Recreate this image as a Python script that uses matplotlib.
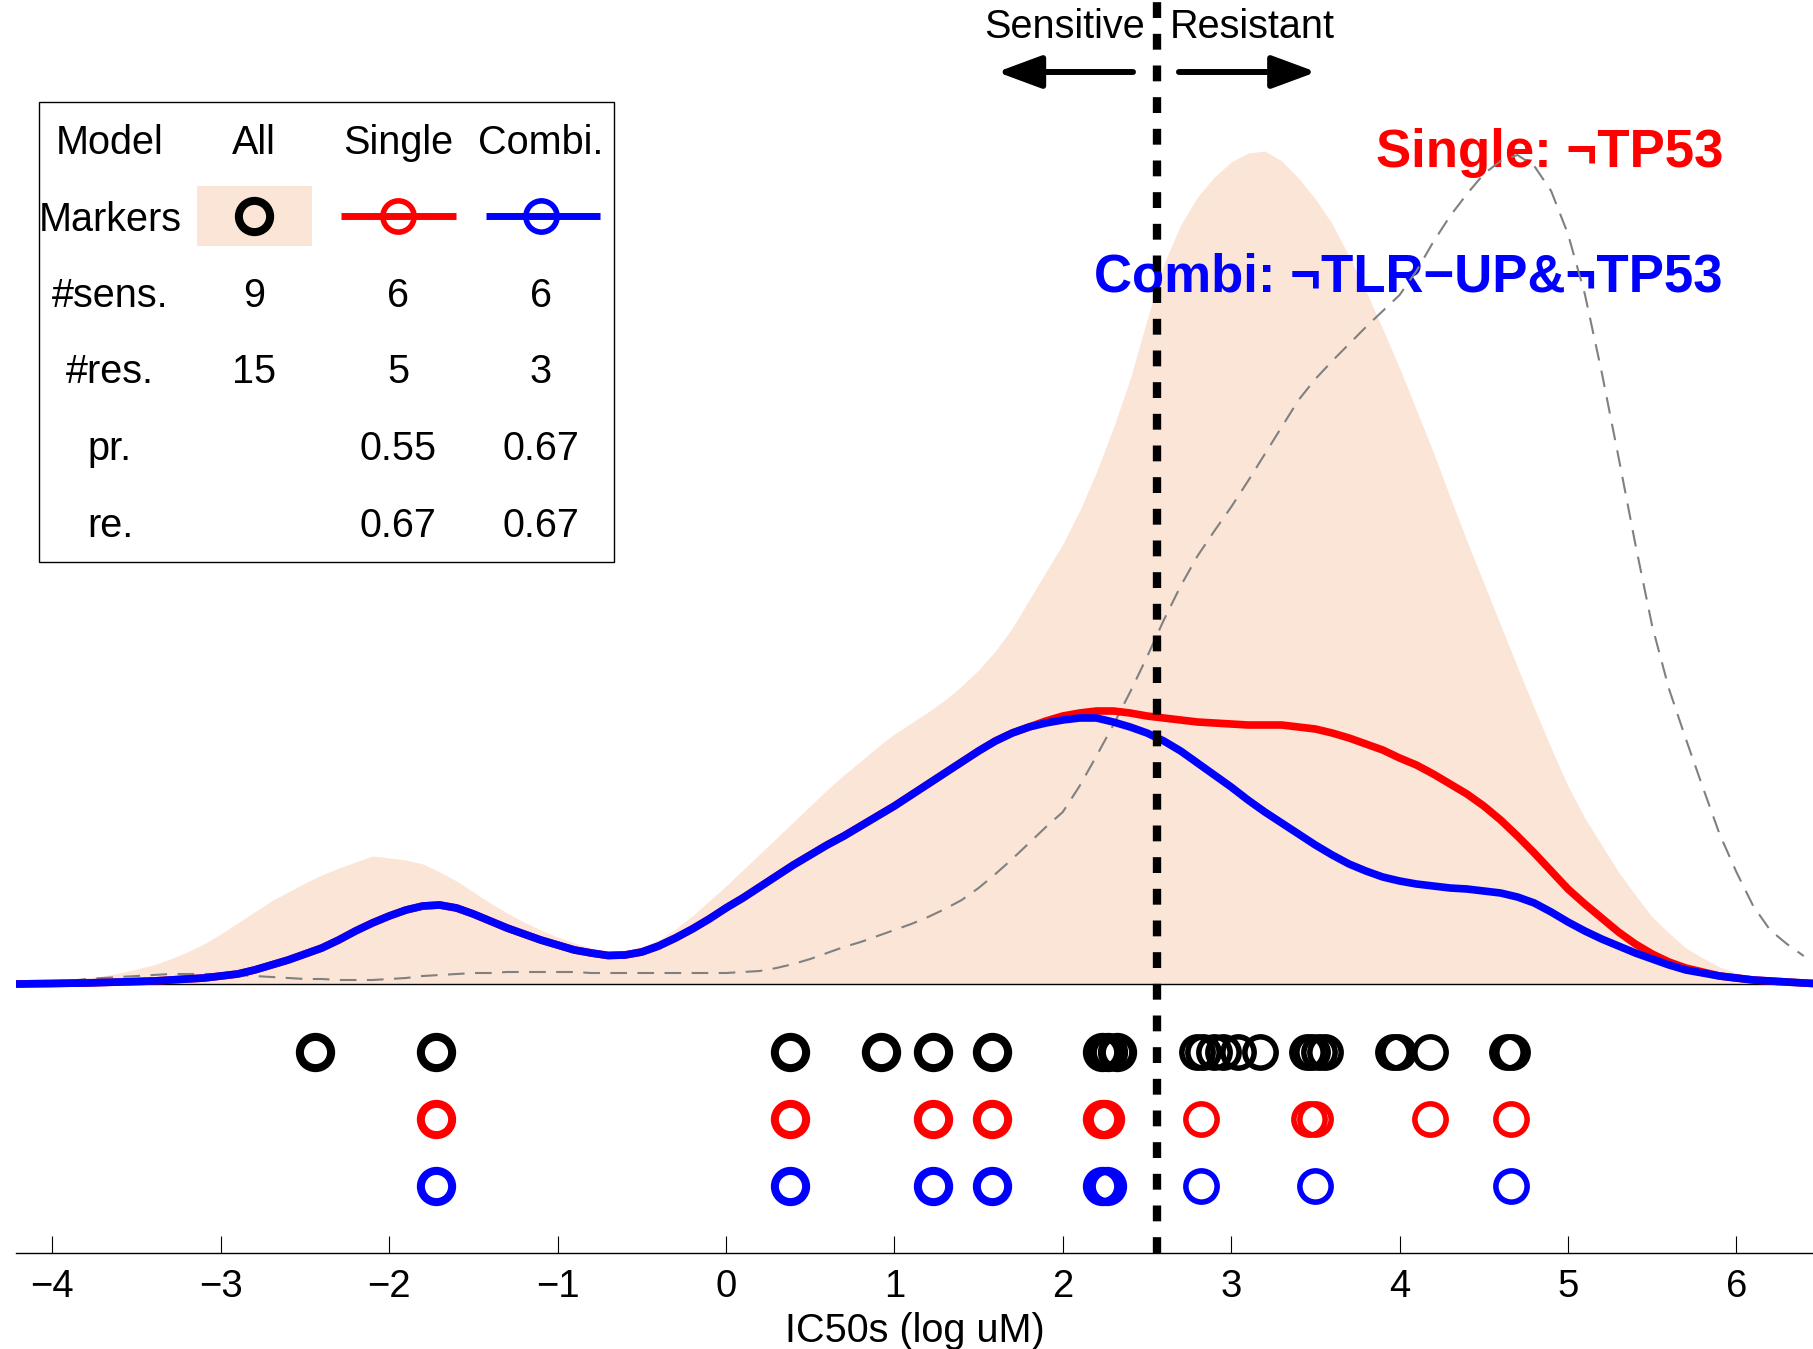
import numpy as np
import matplotlib
matplotlib.use("Agg")
import matplotlib.pyplot as plt
from matplotlib.lines import Line2D
from matplotlib.patches import Rectangle

plt.rcParams["font.family"] = ["Liberation Sans", "DejaVu Sans"]

IC50_GRID = [-4.22, -4.1, -4.0, -3.9, -3.8, -3.7, -3.6, -3.5, -3.4, -3.3,
             -3.2, -3.1, -3.0, -2.9, -2.8, -2.7, -2.6, -2.5, -2.4, -2.3,
             -2.2, -2.1, -2.0, -1.9, -1.8, -1.7, -1.6, -1.5, -1.4, -1.3,
             -1.2, -1.1, -1.0, -0.9, -0.8, -0.7, -0.6, -0.5, -0.4, -0.3,
             -0.2, -0.1, 0.0, 0.1, 0.2, 0.3, 0.4, 0.5, 0.6, 0.7,
             0.8, 0.9, 1.0, 1.1, 1.2, 1.3, 1.4, 1.5, 1.6, 1.7,
             1.8, 1.9, 2.0, 2.1, 2.2, 2.3, 2.4, 2.5, 2.6, 2.7,
             2.8, 2.9, 3.0, 3.1, 3.2, 3.3, 3.4, 3.5, 3.6, 3.7,
             3.8, 3.9, 4.0, 4.1, 4.2, 4.3, 4.4, 4.5, 4.6, 4.7,
             4.8, 4.9, 5.0, 5.1, 5.2, 5.3, 5.4, 5.5, 5.6, 5.7,
             5.8, 5.9, 6.0, 6.1, 6.2, 6.3, 6.4, 6.46]

# densities (arbitrary units)
DENS_ALL = [2, 2.5, 3, 4, 6, 8, 11, 15, 19, 25,
            32, 40, 50, 61, 72, 83, 92, 101, 109, 116,
            122, 128, 126, 124, 120, 112, 103, 92, 81, 71,
            62, 54, 47, 41, 36, 33, 33, 37, 44, 55,
            68, 83, 98, 114, 130, 146, 162, 178, 194, 209,
            223, 237, 250, 261, 272, 284, 298, 314, 333, 356,
            384, 412, 440, 473, 512, 556, 605, 664, 720, 759,
            787, 807, 822, 831, 833, 823, 806, 785, 760, 728,
            693, 655, 616, 574, 532, 487, 443, 401, 359, 317,
            276, 236, 198, 166, 139, 112, 89, 67, 51, 36,
            26, 17, 11, 6, 3, 2, 1, 0.5]
DENS_SINGLE = [0, 0.3, 0.5, 0.8, 1, 1.5, 2, 2.5, 3, 4,
               5, 6, 8, 10, 14, 19, 24, 30, 36, 44,
               53, 61, 68, 74, 78, 79, 76, 70, 63, 56,
               50, 44, 39, 34, 31, 28.5, 29, 32, 38, 46,
               55, 65, 76, 86, 97, 108, 119, 129, 139, 148,
               158, 168, 178, 189, 200, 211, 222, 233, 243, 251,
               257, 263, 268, 271, 273, 273, 271, 268, 266, 264,
               262, 261, 260, 259, 259, 259, 257, 255, 251, 246,
               240, 234, 226, 219, 210, 200, 190, 178, 164, 148,
               131, 113, 95, 80, 66, 52, 40, 30, 22, 16,
               12, 8, 6, 4, 3, 2, 1, 0.5]
DENS_COMBI = [0, 0.3, 0.5, 0.8, 1, 1.5, 2, 2.5, 3, 4,
              5, 6, 8, 10, 14, 19, 24, 30, 36, 44,
              53, 61, 68, 74, 78, 79, 76, 70, 63, 56,
              50, 44, 39, 34, 31, 28.5, 29, 32, 38, 46,
              55, 65, 76, 86, 97, 108, 119, 129, 139, 148,
              158, 168, 178, 189, 200, 211, 222, 233, 243, 251,
              257, 261, 264, 266, 266, 262, 257, 251, 243, 233,
              221, 209, 197, 184, 172, 161, 150, 139, 129, 120,
              113, 107, 103, 100, 98, 96, 95, 93, 91, 87,
              81, 72, 62, 53, 45, 38, 31, 25, 19, 14,
              11, 8, 6, 4, 3, 2, 1, 0.5]
DENS_BACKGROUND = [1, 1.5, 2, 3, 5, 6, 7, 8, 9, 10,
                   10, 10, 10, 9, 8, 7, 6, 5, 5, 4,
                   4, 4, 5, 6, 8, 9, 10, 11, 11, 12,
                   12, 12, 12, 12, 11, 11, 11, 11, 11, 11,
                   11, 11, 11, 12, 13, 16, 20, 25, 31, 37,
                   42, 48, 54, 60, 67, 75, 84, 96, 110, 125,
                   141, 157, 172, 198, 228, 259, 292, 327, 364, 398,
                   428, 453, 477, 503, 530, 557, 584, 605, 623, 640,
                   657, 673, 689, 713, 742, 768, 790, 810, 823, 829,
                   818, 793, 750, 690, 612, 527, 440, 358, 295, 245,
                   197, 150, 112, 78, 54, 40, 28, np.nan]

THRESHOLD = 2.56

# cell lines (log IC50)
IC50_ALL = [-2.44, -1.72, 0.38, 0.92, 1.23, 1.58, 2.23, 2.27, 2.32,
            2.80, 2.83, 2.90, 2.95, 3.04, 3.17, 3.45, 3.48, 3.52, 3.555,
            3.96, 3.99, 4.18, 4.64, 4.67]
IC50_SINGLE = [-1.72, 0.38, 1.23, 1.58, 2.23, 2.25, 2.82, 3.46, 3.50, 4.18, 4.66]
IC50_COMBI = [-1.72, 0.38, 1.23, 1.58, 2.23, 2.26, 2.82, 3.50, 4.66]

TABLE_COLS = ["Model", "All", "Single", "Combi."]
TABLE_ROWS = ["Markers", "#sens.", "#res.", "pr.", "re."]
N_SENS = ["9", "6", "6"]
N_RES = ["15", "5", "3"]
PRECISION = ["", "0.55", "0.67"]
RECALL = ["", "0.67", "0.67"]

LABEL_SINGLE = "Single: ¬TP53"
LABEL_COMBI = "Combi: ¬TLR−UP&¬TP53"

PEACH = "#FBE5D7"
W, H = 1813, 1349

fig = plt.figure(figsize=(W / 100, H / 100), dpi=100)
ax = fig.add_axes([16 / W, (H - 1253) / H, (W - 16) / W, 1253 / H])

ax.fill_between(IC50_GRID, 0, DENS_ALL, color=PEACH, lw=0, zorder=1)
ax.plot(IC50_GRID, DENS_BACKGROUND, color="0.5", lw=1.5, dashes=(8, 5), zorder=2.5)
ax.axhline(0, color="k", lw=1, zorder=2)
ax.plot(IC50_GRID, DENS_SINGLE, color="r", lw=5.5, zorder=3)
ax.plot(IC50_GRID, DENS_COMBI, color="b", lw=5.5, zorder=4)

# marker rows below the curves: thick rings for sensitive lines
rows = [(IC50_ALL, "k", -68), (IC50_SINGLE, "r", -135), (IC50_COMBI, "b", -202)]
for vals, col, yrow in rows:
    for v in vals:
        mew = 5.8 if v < THRESHOLD else 4.0
        ax.plot([v], [yrow], marker="o", ms=22.5, mew=mew, mfc="none",
                mec=col, ls="none", zorder=5)

ax.axvline(THRESHOLD, color="k", lw=6, dashes=(1.9, 1.9), zorder=7)

ax.text(2.488, 946, "Sensitive", ha="right", va="baseline", fontsize=28.5, zorder=6)
ax.text(2.636, 946, "Resistant", ha="left", va="baseline", fontsize=28.5, zorder=6)
arrow = dict(arrowstyle="-|>,head_length=2.7,head_width=1.0", lw=4.3, color="k",
             shrinkA=0, shrinkB=0, mutation_scale=10)
ax.annotate("", xy=(1.61, 912), xytext=(2.417, 912), arrowprops=arrow, zorder=6)
ax.annotate("", xy=(3.505, 912), xytext=(2.69, 912), arrowprops=arrow, zorder=6)

ax.text(5.92, 817, LABEL_SINGLE, color="r", fontsize=38, fontweight="bold",
        ha="right", va="baseline", zorder=2)
ax.text(5.92, 693, LABEL_COMBI, color="b", fontsize=38, fontweight="bold",
        ha="right", va="baseline", zorder=2)

ax.set_xlim(-4.216, 6.455)
ax.set_ylim(-269, 984)
ax.set_xticks(range(-4, 7))
ax.set_yticks([])
for s in ["top", "left", "right"]:
    ax.spines[s].set_visible(False)
ax.spines["bottom"].set_linewidth(1)
ax.tick_params(axis="x", direction="in", length=12, width=0.8, pad=11.5, labelsize=27.5)
ax.set_xlabel("IC50s (log uM)", fontsize=28.5)
ax.xaxis.set_label_coords(0.5, -0.047)


# legend table in the upper left (figure pixel positions)
def fx(px):
    return px / W


def fy(py):
    return 1 - py / H


fig.add_artist(Rectangle((fx(39), fy(562)), fx(614) - fx(39), fy(102) - fy(562),
                         transform=fig.transFigure, fill=False, ec="k", lw=1))
fig.add_artist(Rectangle((fx(197), fy(246)), fx(312) - fx(197), fy(186) - fy(246),
                         transform=fig.transFigure, color=PEACH, lw=0))

col_x = [110, 254, 398, 541]
row_base = [154, 231, 307, 383, 460, 537]
for cx, name in zip(col_x, TABLE_COLS):
    fig.text(fx(cx), fy(row_base[0]), name, ha="center", va="baseline", fontsize=28.5)
for i, name in enumerate(TABLE_ROWS):
    fig.text(fx(110), fy(row_base[i + 1]), name, ha="center", va="baseline", fontsize=28.5)
for i, vals in enumerate([N_SENS, N_RES, PRECISION, RECALL]):
    for cx, v in zip(col_x[1:], vals):
        fig.text(fx(cx), fy(row_base[i + 2]), v, ha="center", va="baseline", fontsize=28.5)

ym = fy(216)
fig.add_artist(Line2D([fx(254)], [ym], marker="o", ms=22.5, mew=5.8, mfc="none",
                      mec="k", transform=fig.transFigure))
fig.add_artist(Line2D([fx(341), fx(456)], [ym, ym], color="r", lw=5,
                      transform=fig.transFigure, solid_capstyle="butt"))
fig.add_artist(Line2D([fx(398)], [ym], marker="o", ms=22.5, mew=4, mfc="none",
                      mec="r", transform=fig.transFigure))
fig.add_artist(Line2D([fx(486), fx(600)], [ym, ym], color="b", lw=5,
                      transform=fig.transFigure, solid_capstyle="butt"))
fig.add_artist(Line2D([fx(541)], [ym], marker="o", ms=22.5, mew=4, mfc="none",
                      mec="b", transform=fig.transFigure))

fig.savefig("out.png", dpi=100)
